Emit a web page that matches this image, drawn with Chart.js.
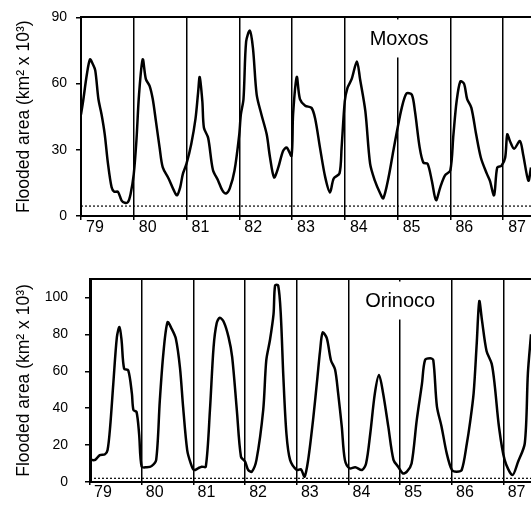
<!DOCTYPE html>
<html>
<head>
<meta charset="utf-8">
<script src="https://cdn.jsdelivr.net/npm/chart.js@4/dist/chart.umd.min.js"></script>
<style>
  html, body { margin: 0; padding: 0; background: #fff; }
  #wrap { position: relative; width: 531px; height: 508px; overflow: hidden; }
  canvas { position: absolute; left: 0; }
  #moxos { top: 0; }
  #orinoco { top: 250px; }
</style>
</head>
<body>
<div id="wrap">
  <canvas id="moxos" width="531" height="250"></canvas>
  <canvas id="orinoco" width="531" height="258"></canvas>
</div>
<script>
const FONT = "'Liberation Sans', Arial, sans-serif";

// years shown on the time axis (19xx), and the visible window
const yearTicks = [79, 80, 81, 82, 83, 84, 85, 86, 87];
const xStart = 79;
const xEnd = 87.53;

// Moxos floodplain, flooded area (km2 x 10^3)
const moxosYears = [
  79.00, 79.04, 79.11, 79.17, 79.22, 79.27, 79.33, 79.39, 79.45, 79.51, 79.58, 79.63, 79.70, 79.77, 79.83, 79.89, 79.94,
  80.00, 80.05, 80.10, 80.17, 80.23, 80.30, 80.36, 80.42, 80.49, 80.55, 80.66, 80.76, 80.82, 80.88, 80.93,
  81.00, 81.09, 81.17, 81.22, 81.25, 81.30, 81.33, 81.41, 81.50, 81.60, 81.68, 81.75, 81.82, 81.91,
  82.00, 82.03, 82.08, 82.13, 82.20, 82.26, 82.33, 82.42, 82.52, 82.58, 82.66, 82.74, 82.83, 82.90, 82.99,
  83.02, 83.09, 83.15, 83.25, 83.37, 83.44, 83.53, 83.63, 83.72, 83.79, 83.90, 83.94,
  84.00, 84.05, 84.13, 84.23, 84.29, 84.39, 84.48, 84.57, 84.67, 84.73, 84.83, 84.92, 84.99,
  85.08, 85.17, 85.27, 85.33, 85.42, 85.49, 85.57, 85.65, 85.73, 85.81, 85.90,
  86.00, 86.06, 86.12, 86.19, 86.26, 86.32, 86.40, 86.49, 86.58, 86.69, 86.75, 86.83, 86.89, 86.97,
  87.04, 87.08, 87.13, 87.21, 87.32, 87.38, 87.48, 87.53
];
const moxosArea = [
  46, 52, 64, 71, 69, 66, 53, 46, 37, 24, 13, 11, 11, 7, 6, 6.3, 10,
  19, 34, 55, 71, 62, 59, 53, 43, 31, 22, 17, 11.6, 9.4, 13, 19,
  23.7, 32.6, 44, 56, 63, 52, 40, 35.4, 21, 16, 11.6, 10.2, 12.5, 20.6,
  37, 46, 53, 79, 84, 76, 55, 46, 37, 27, 17.5, 22, 29.5, 31, 27.3,
  46, 63, 53, 50, 49, 44, 31, 17.5, 10.7, 17, 19.3, 31,
  52, 58, 62, 70, 62, 47.5, 23.7, 16, 10.3, 8, 17.5, 29.5, 38.5,
  49, 55.5, 55, 47.5, 31, 24.2, 23.7, 16, 7.2, 13, 18.4,
  20.6, 37, 52, 61, 60, 53, 49, 37, 26.4, 19.3, 16, 9.4, 22, 22.8,
  26.4, 37, 34, 30.5, 34, 28, 16, 22
];
const moxosThreshold = 4.5;
const moxosTicks = [0, 30, 60, 90];

// Orinoco llanos, flooded area (km2 x 10^3)
const orinocoYears = [
  79.00, 79.03, 79.10, 79.19, 79.29, 79.34, 79.39, 79.45, 79.52, 79.57, 79.61, 79.66, 79.74, 79.81, 79.84, 79.90, 79.95,
  80.00, 80.10, 80.19, 80.28, 80.35, 80.42, 80.50, 80.58, 80.66, 80.74, 80.80, 80.88, 80.95,
  81.01, 81.09, 81.16, 81.24, 81.32, 81.39, 81.45, 81.51, 81.59, 81.68, 81.75, 81.84, 81.92,
  82.00, 82.06, 82.13, 82.22, 82.35, 82.41, 82.48, 82.55, 82.58, 82.64, 82.69, 82.74, 82.80, 82.87,
  83.00, 83.08, 83.15, 83.22, 83.32, 83.40, 83.45, 83.50, 83.58, 83.66, 83.74, 83.80, 83.87, 83.93,
  84.02, 84.13, 84.26, 84.34, 84.42, 84.51, 84.59, 84.67, 84.77, 84.87, 84.96,
  85.05, 85.13, 85.22, 85.32, 85.42, 85.48, 85.58, 85.64, 85.71, 85.80, 85.90,
  86.00, 86.09, 86.19, 86.29, 86.35, 86.42, 86.48, 86.53, 86.58, 86.67, 86.77, 86.83, 86.91,
  87.02, 87.17, 87.28, 87.41, 87.47, 87.53
];
const orinocoArea = [
  12, 11.9, 12, 14.6, 15, 17.3, 30, 53, 78.5, 84, 77, 61.4, 60.5, 48, 39, 38, 26,
  8.3, 8, 8.6, 12, 44, 70, 86.6, 83, 77.7, 62, 41, 17.3, 10,
  6.5, 7.4, 8.3, 8.3, 39, 73, 86, 89, 86.6, 78.5, 67.7, 39, 13.7,
  11, 6.5, 5.6, 12, 39, 66, 76.8, 91, 106.5, 106.5, 91, 57, 26, 12,
  6.5, 6.9, 2.9, 12, 35, 57, 71, 81, 78, 66, 61, 48, 30, 12,
  7.4, 8, 6.5, 10, 26, 48, 58, 48, 30, 12, 8.3,
  4.7, 5.6, 10, 33.5, 53, 66, 67, 66, 41, 30, 15.5,
  6.5, 5.6, 6.5, 21, 32, 48, 75, 98, 88, 71, 64, 52, 30,
  12, 3.8, 11, 21, 59, 80
];
const orinocoThreshold = 2;
const orinocoTicks = [0, 20, 40, 60, 80, 100];

const yTitle = 'Flooded area (km\u00B2 x 10\u00B3)';

// region name written inside the plot, on a white patch
const panelLabel = {
  id: 'panelLabel',
  afterDatasetsDraw(chart, args, opts) {
    const { ctx, scales: { x, y } } = chart;
    const px = x.getPixelForValue(opts.x);
    const py = y.getPixelForValue(opts.y);
    ctx.save();
    ctx.font = '20px ' + FONT;
    const w = ctx.measureText(opts.text).width;
    ctx.fillStyle = '#fff';
    ctx.fillRect(px - w / 2 - 4, py - 20, w + 8, 38);
    ctx.fillStyle = '#000';
    ctx.textAlign = 'center';
    ctx.textBaseline = 'middle';
    ctx.fillText(opts.text, px, py);
    ctx.restore();
  }
};

function drawPanel(id, name, years, area, threshold, yTicks, L) {
  const series = years.map((yr, i) => ({ x: yr, y: area[i] }));
  const thresholdLine = [{ x: xStart, y: threshold }, { x: xEnd, y: threshold }];

  return new Chart(document.getElementById(id), {
    type: 'line',
    data: {
      datasets: [
        { data: series, borderColor: '#000', borderWidth: 2.5, pointRadius: 0, tension: 0.3 },
        { data: thresholdLine, borderColor: '#000', borderWidth: 1.2, borderDash: [2, 2], pointRadius: 0 }
      ]
    },
    options: {
      responsive: false,
      animation: false,
      layout: { padding: { top: L.top, left: 0, right: 0, bottom: 0 } },
      plugins: {
        legend: { display: false },
        tooltip: { enabled: false },
        panelLabel: { text: name, x: L.labelX, y: L.labelY }
      },
      scales: {
        x: {
          type: 'linear',
          min: xStart,
          max: xEnd,
          afterFit: s => { s.height = L.xh; },
          afterBuildTicks: s => { s.ticks = yearTicks.map(v => ({ value: v })); },
          ticks: {
            color: '#000',
            font: { family: FONT, size: 16 },
            labelOffset: L.labelOffset,
            padding: L.xPad,
            maxRotation: 0,
            autoSkip: false,
            callback: v => String(v)
          },
          grid: { color: '#000', lineWidth: 1.5, tickLength: L.xTick },
          border: { color: '#000', width: 2 }
        },
        top: {
          type: 'linear',
          position: 'top',
          afterFit: s => { s.height = 0; },
          ticks: { display: false },
          grid: { display: false, drawTicks: false },
          border: { color: '#000', width: 2 }
        },
        y: {
          min: 0,
          max: L.ymax,
          afterFit: s => { s.width = L.yw; },
          afterBuildTicks: s => { s.ticks = yTicks.map(v => ({ value: v })); },
          ticks: {
            color: '#000',
            font: { family: FONT, size: 14 },
            padding: L.yPad,
            callback: v => String(v)
          },
          grid: { drawOnChartArea: false, color: '#000', lineWidth: 1.5, tickLength: 5 },
          border: { color: '#000', width: L.yBorder },
          title: {
            display: true,
            text: yTitle,
            color: '#000',
            font: { family: FONT, size: 17.5 },
            padding: { top: 14, bottom: 0 }
          }
        }
      }
    },
    plugins: [panelLabel]
  });
}

drawPanel('moxos', 'Moxos', moxosYears, moxosArea, moxosThreshold, moxosTicks, {
  top: 15, xh: 34, yw: 81, ymax: 90, labelOffset: 14, xTick: 4, xPad: -2, yPad: 9, yBorder: 2,
  labelX: 85.03, labelY: 80
});

drawPanel('orinoco', 'Orinoco', orinocoYears, orinocoArea, orinocoThreshold, orinocoTicks, {
  top: 29, xh: 26, yw: 90, ymax: 110, labelOffset: 13, xTick: 3, xPad: -2, yPad: 17, yBorder: 3,
  labelX: 85.0, labelY: 97.8
});
</script>
</body>
</html>
